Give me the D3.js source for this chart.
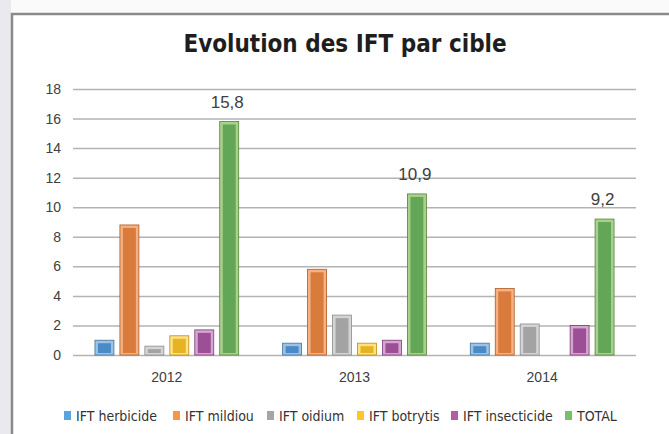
<!DOCTYPE html>
<html>
<head>
<meta charset="utf-8">
<script src="https://cdn.jsdelivr.net/npm/d3@7"></script>
<style>
  html, body { margin: 0; padding: 0; background: #fff; }
  svg { display: block; }
</style>
</head>
<body>
<svg id="chart" width="669" height="434"></svg>
<script>
// donnees
var annees = ["2012", "2013", "2014"];
var series = ["IFT herbicide", "IFT mildiou", "IFT oidium", "IFT botrytis", "IFT insecticide", "TOTAL"];
var herbicide   = [1.0, 0.8, 0.8];
var mildiou     = [8.8, 5.8, 4.5];
var oidium      = [0.6, 2.7, 2.1];
var botrytis    = [1.3, 0.8, 0];
var insecticide = [1.7, 1.0, 2.0];
var total       = [15.8, 10.9, 9.2];
var etiquettesTotal = ["15,8", "10,9", "9,2"];
var ticksY = [0, 2, 4, 6, 8, 10, 12, 14, 16, 18];

var valeurs = [herbicide, mildiou, oidium, botrytis, insecticide, total];

// couleurs : principale, biseau clair, contour
var couleurs = [
  { main: "#4a8ac6", light: "#9cc3e6", line: "#41719c", legend: "#5ba3dc" },
  { main: "#d97b3a", light: "#f4b183", line: "#ae5a21", legend: "#f79646" },
  { main: "#a3a3a3", light: "#d4d4d4", line: "#8c8c8c", legend: "#a5a5a5" },
  { main: "#e6b422", light: "#ffe08a", line: "#bf9000", legend: "#ffc62a" },
  { main: "#9c4f94", light: "#d6a6d1", line: "#7a3a73", legend: "#b05fa6" },
  { main: "#63a657", light: "#a9d18e", line: "#548235", legend: "#76c06a" }
];

var svg = d3.select("#chart");

// fond gris a gauche + cadre
svg.append("rect").attr("x", 0).attr("y", 0).attr("width", 669).attr("height", 434).attr("fill", "#fafafa");
svg.append("rect").attr("x", 0).attr("y", 0).attr("width", 11).attr("height", 434).attr("fill", "#e9e9ee");
svg.append("rect")
  .attr("x", 12).attr("y", 14).attr("width", 680).attr("height", 440)
  .attr("fill", "#fff").attr("stroke", "#8a8a8a").attr("stroke-width", 2.5);

svg.append("text")
  .attr("x", 345).attr("y", 52)
  .attr("text-anchor", "middle")
  .attr("font-family", "'DejaVu Sans Condensed', 'DejaVu Sans', sans-serif")
  .attr("font-stretch", "condensed")
  .attr("font-weight", "bold")
  .attr("font-size", "24px")
  .attr("fill", "#1e1e1e")
  .text("Evolution des IFT par cible");

var gauche = 73, droite = 636, haut = 89, bas = 355;

var y = d3.scaleLinear().domain([0, 18]).range([bas, haut]);
var x0 = d3.scaleBand().domain(annees).range([gauche, droite]);
var x1 = d3.scaleBand().domain(series).range([0, x0.bandwidth()]).paddingInner(0.24).paddingOuter(0.88);

// grille
var axeY = d3.axisLeft(y).tickValues(ticksY).tickSize(-(droite - gauche)).tickPadding(12);
var gY = svg.append("g").attr("transform", "translate(" + gauche + ",0)").call(axeY);
gY.select(".domain").remove();
gY.selectAll(".tick line").attr("stroke", "#b3b3b3").attr("stroke-width", 1.5);
gY.selectAll(".tick text")
  .attr("font-family", "'Liberation Sans', Arial, sans-serif")
  .attr("font-size", "14px")
  .attr("fill", "#404040");

// axe x (etiquettes seulement)
var axeX = d3.axisBottom(x0).tickSize(0).tickPadding(17);
var gX = svg.append("g").attr("transform", "translate(0," + bas + ")").call(axeX);
gX.select(".domain").remove();
gX.selectAll(".tick text")
  .attr("font-family", "'Liberation Sans', Arial, sans-serif")
  .attr("font-size", "14px")
  .attr("fill", "#404040");

// barres
var donnees = [];
annees.forEach(function (a, i) {
  series.forEach(function (s, j) {
    donnees.push({ annee: a, serie: s, j: j, v: valeurs[j][i] });
  });
});

var barres = svg.append("g").selectAll("g.barre")
  .data(donnees.filter(function (d) { return d.v > 0; }))
  .enter().append("g").attr("class", "barre");

barres.append("rect")
  .attr("x", function (d) { return x0(d.annee) + x1(d.serie); })
  .attr("y", function (d) { return y(d.v); })
  .attr("width", x1.bandwidth())
  .attr("height", function (d) { return bas - y(d.v); })
  .attr("fill", function (d) { return couleurs[d.j].light; })
  .attr("stroke", function (d) { return couleurs[d.j].line; })
  .attr("stroke-width", 0.8);

barres.append("rect")
  .attr("x", function (d) { return x0(d.annee) + x1(d.serie) + 3; })
  .attr("y", function (d) { return y(d.v) + 3; })
  .attr("width", x1.bandwidth() - 6)
  .attr("height", function (d) { return Math.max(0, bas - y(d.v) - 5); })
  .attr("fill", function (d) { return couleurs[d.j].main; });

// etiquettes TOTAL
svg.append("g").selectAll("text")
  .data(annees)
  .enter().append("text")
  .attr("x", function (d) { return x0(d) + x1("TOTAL") + x1.bandwidth() / 2 - 2; })
  .attr("y", function (d, i) { return y(total[i]) - 14; })
  .attr("text-anchor", "middle")
  .attr("font-family", "'Liberation Sans', Arial, sans-serif")
  .attr("font-size", "17px")
  .attr("fill", "#404040")
  .text(function (d, i) { return etiquettesTotal[i]; });

// legende
var posLegende = [64, 173, 267, 357, 451, 565];
var leg = svg.append("g").selectAll("g")
  .data(series)
  .enter().append("g")
  .attr("transform", function (d, i) { return "translate(" + posLegende[i] + ",0)"; });

leg.append("rect")
  .attr("x", 0).attr("y", 411).attr("width", 7).attr("height", 9)
  .attr("fill", function (d, i) { return couleurs[i].legend; });

leg.append("text")
  .attr("x", 12).attr("y", 421)
  .attr("font-family", "'DejaVu Sans Condensed', 'DejaVu Sans', sans-serif")
  .attr("font-stretch", "condensed")
  .attr("font-size", "14px")
  .attr("fill", "#333")
  .text(function (d) { return d; });
</script>
</body>
</html>
